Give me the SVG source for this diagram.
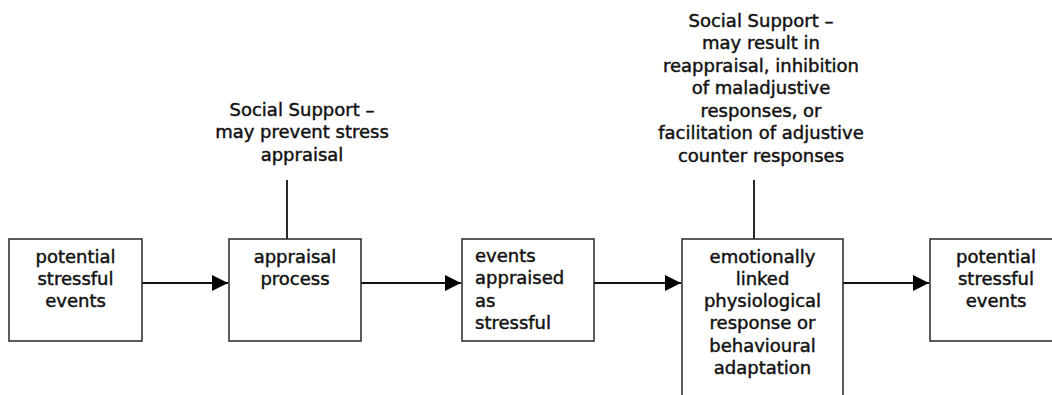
<svg xmlns="http://www.w3.org/2000/svg" width="1052" height="395" viewBox="0 0 1052 395">
<style>
text{font-family:"DejaVu Sans","Liberation Sans",sans-serif;font-size:18px;fill:#111;stroke:#111;stroke-width:0.45}
.c{text-anchor:middle}
.box{fill:#fff;stroke:#333;stroke-width:1.6}
.ln{stroke:#111;stroke-width:1.8;fill:none}
</style>
<defs>
<marker id="ah" viewBox="0 0 16 16" refX="16" refY="8" markerWidth="16" markerHeight="16" markerUnits="userSpaceOnUse" orient="auto">
<path d="M0,0 L16,8 L0,16 Z" fill="#000"/>
</marker>
</defs>
<rect width="1052" height="395" fill="#fff"/>
<g id="connectors">
<line class="ln" x1="142" y1="283" x2="228" y2="283" marker-end="url(#ah)"/>
<line class="ln" x1="361" y1="283" x2="461" y2="283" marker-end="url(#ah)"/>
<line class="ln" x1="594" y1="283" x2="681" y2="283" marker-end="url(#ah)"/>
<line class="ln" x1="843" y1="283" x2="929" y2="283" marker-end="url(#ah)"/>
<line class="ln" x1="287" y1="180" x2="287" y2="239"/>
<line class="ln" x1="754" y1="180" x2="754" y2="239"/>
</g>
<g id="label-support-1">
<text class="c" x="302" y="116">Social Support –</text>
<text class="c" x="302" y="138">may prevent stress</text>
<text class="c" x="302" y="161">appraisal</text>
</g>
<g id="label-support-2">
<text class="c" x="761" y="27">Social Support –</text>
<text class="c" x="761" y="49">may result in</text>
<text class="c" x="761" y="72">reappraisal, inhibition</text>
<text class="c" x="761" y="94">of maladjustive</text>
<text class="c" x="761" y="117">responses, or</text>
<text class="c" x="761" y="139">facilitation of adjustive</text>
<text class="c" x="761" y="162">counter responses</text>
</g>
<g id="node1">
<rect class="box" x="9" y="239" width="133" height="102"/>
<text class="c" x="75.5" y="263">potential</text>
<text class="c" x="75.5" y="285">stressful</text>
<text class="c" x="75.5" y="307">events</text>
</g>
<g id="node2">
<rect class="box" x="229" y="239" width="132" height="102"/>
<text class="c" x="295" y="263">appraisal</text>
<text class="c" x="295" y="285">process</text>
</g>
<g id="node3">
<rect class="box" x="462" y="239" width="132" height="102"/>
<text x="475" y="262">events</text>
<text x="475" y="284">appraised</text>
<text x="475" y="307">as</text>
<text x="475" y="329">stressful</text>
</g>
<g id="node4">
<rect class="box" x="682" y="239" width="161" height="170"/>
<text class="c" x="762.5" y="263">emotionally</text>
<text class="c" x="762.5" y="285">linked</text>
<text class="c" x="762.5" y="307">physiological</text>
<text class="c" x="762.5" y="329">response or</text>
<text class="c" x="762.5" y="352">behavioural</text>
<text class="c" x="762.5" y="374">adaptation</text>
</g>
<g id="node5">
<rect class="box" x="930" y="239" width="133" height="102"/>
<text class="c" x="996" y="263">potential</text>
<text class="c" x="996" y="285">stressful</text>
<text class="c" x="996" y="307">events</text>
</g>
</svg>
